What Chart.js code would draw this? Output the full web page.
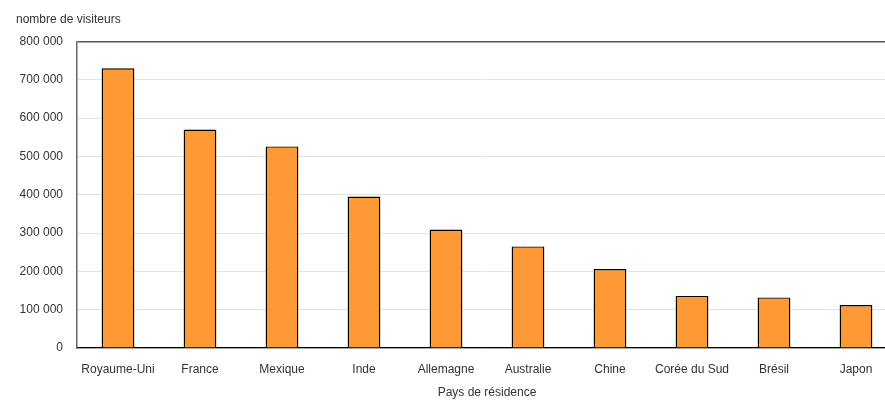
<!DOCTYPE html>
<html>
<head>
<meta charset="utf-8">
<script src="https://cdn.jsdelivr.net/npm/chart.js@4/dist/chart.umd.min.js"></script>
<style>
  html, body { margin: 0; padding: 0; overflow: hidden; background: #fff; }
  #wrap { width: 897px; height: 401px; }
</style>
</head>
<body>
<div id="wrap"><canvas id="myChart"></canvas></div>
<script>
const pays = ["Royaume-Uni", "France", "Mexique", "Inde", "Allemagne", "Australie", "Chine", "Corée du Sud", "Brésil", "Japon"];
const visiteurs = [730000, 570000, 526000, 395000, 309000, 265000, 206000, 136000, 132000, 112000];
const yMax = 800000;
const yStep = 100000;

const police = "'Liberation Sans Narrow', 'Liberation Sans', Arial, sans-serif";
Chart.defaults.font.family = police;
Chart.defaults.font.size = 12;
Chart.defaults.color = "#333";

const formatNombre = (v) => v === 0 ? "0" : v.toLocaleString("fr-FR").replace(/\s/g, " ");

var ctx = document.getElementById("myChart");
var myChart = new Chart(ctx, {
  type: "bar",
  data: {
    labels: pays,
    datasets: [
      {
        data: visiteurs,
        backgroundColor: "#FD9A35", // orange
        borderColor: "#000",
        borderWidth: 1.4,
        barPercentage: 0.4,
        categoryPercentage: 1,
      },
    ],
  },
  options: {
    responsive: true,
    maintainAspectRatio: false,
    animation: false,
    layout: {
      padding: { left: 16, right: 0, top: 12, bottom: 0 },
    },
    plugins: {
      legend: { display: false },
      tooltip: { enabled: false },
      title: {
        display: true,
        text: "nombre de visiteurs",
        align: "start",
        color: "#333",
        font: { size: 12, weight: "normal" },
        padding: { top: 0, bottom: 15 },
      },
    },
    scales: {
      x: {
        afterFit: (scale) => { scale.height = 53; },
        grid: { display: false, drawTicks: false },
        border: { color: "#000", width: 1.2 },
        ticks: { padding: 14, color: "#333", autoSkip: false, maxRotation: 0 },
        title: {
          display: true,
          text: "Pays de résidence",
          color: "#333",
          padding: { top: 0, bottom: 1 },
        },
      },
      y: {
        min: 0,
        max: yMax,
        afterFit: (scale) => { scale.width = 61; },
        grid: {
          drawTicks: false,
          color: (c) => c.tick && c.tick.value === yMax ? "#555" : "#e3e3e3",
          lineWidth: (c) => c.tick && c.tick.value === yMax ? 1.5 : 1,
        },
        border: { color: "#666", width: 1.5 },
        ticks: {
          stepSize: yStep,
          padding: 14,
          color: "#333",
          callback: (v) => formatNombre(v),
        },
      },
    },
  },
});
</script>
</body>
</html>
